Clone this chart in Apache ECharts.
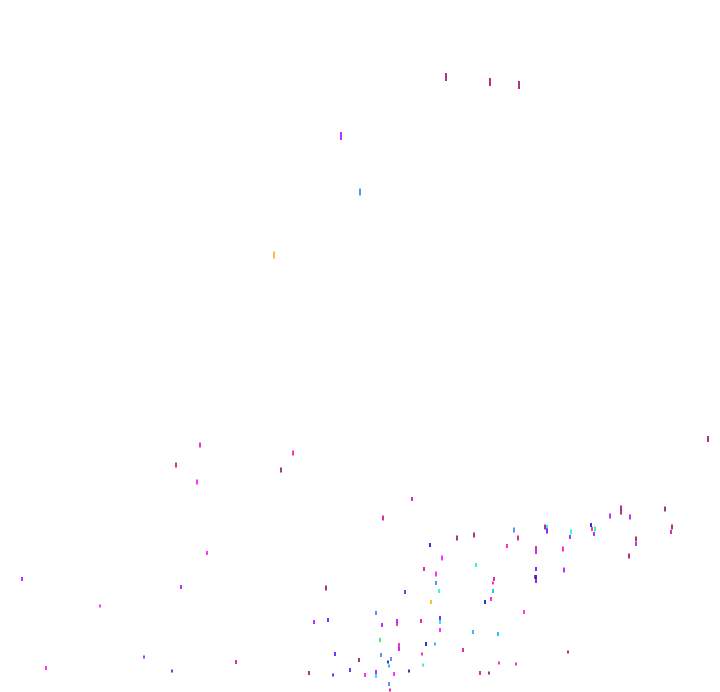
<!DOCTYPE html>
<html><head><meta charset="utf-8">
<script src="https://cdn.jsdelivr.net/npm/echarts@6/dist/echarts.min.js"></script>
<style>html,body{margin:0;padding:0;background:#fff}#c{width:720px;height:692px}</style>
</head><body><div id="c"></div>
<script>
// point x values
const xVals = [446,490,519,341,360,274,708,
200,176,197,207,
22,181,100,144,236,46,172,
293,281,412,383,457,474,430,442,
476,424,436,436,439,326,405,431,376,328,314,440,440,382,397,397,421,440,473,380,399,399,426,435,463,335,381,391,422,359,388,389,423,350,376,376,409,394,309,333,365,389,390,
621,665,610,630,672,671,514,545,547,547,571,570,591,592,595,594,518,636,636,507,536,536,563,629,
536,536,535,536,564,494,493,493,491,485,524,498,568,499,516,480,489];
// point y values
const yVals = [77,82,85,136,192,255,439,
445,465,482,553,
579,587,606,657,662,668,671,
453,470,499,518,538,535,545,558,
565,569,574,583,591,588,592,602,613,620,622,618,622,625,624,621,621,630,632,640,645,649,644,644,650,654,655,659,654,660,662,666,665,670,672,676,671,674,673,675,675,684,690,
510,509,516,517,527,532,530,527,527,531,532,537,525,529,529,534,538,539,544,546,548,552,549,556,
569,577,577,581,570,579,583,591,599,602,612,634,652,663,664,673,673];
// mark magnitude
const sizes = [8,8,8,8,7,7,6,
5,5,5,4,
4,4,3,3,4,4,3,
5,5,4,5,5,5,4,5,
4,4,5,4,4,5,4,4,4,4,4,4,4,4,4,4,4,4,4,4,4,4,4,3,4,4,4,4,3,4,3,3,3,4,4,4,3,4,4,3,4,4,3,
9,5,5,5,5,4,5,5,4,5,5,4,4,4,5,4,5,5,4,4,4,4,5,5,
4,4,4,4,5,4,3,4,4,4,4,4,3,3,3,4,3];
// colour group of each point
const groups = ['d','d','d','p','b','o','d',
'm','r','f','f',
'p','p','f','p','r','f','v',
'm','d','r','r','d','d','n','f',
'g','r','f','b','t','d','v','o','b','v','p','v','c','p','m','p','r','f','s','h','m','p','n','s','r','v','b','b','m','d','n','s','g','v','p','c','n','f','d','v','f','b','r',
'd','d','p','p','d','r','b','d','c','v','t','p','n','m','g','p','r','d','p','m','r','p','m','d',
'v','n','d','v','p','r','m','s','m','n','f','s','d','m','m','r','d'];
const palette = {d:'#990066',r:'#cc0088',m:'#ff00aa',f:'#ff00ff',p:'#aa00ff',v:'#5500ff',n:'#0000cc',b:'#3377ff',s:'#00aaff',c:'#00ddff',t:'#00ffcc',g:'#00ff88',h:'#00ff44',o:'#ffaa00'};

const data = xVals.map((x,i)=>({value:[x,yVals[i],sizes[i]],itemStyle:{color:palette[groups[i]]}}));
const chart = echarts.init(document.getElementById('c'),null,{renderer:'canvas'});
chart.setOption({
  animation:false,
  backgroundColor:'#ffffff',
  grid:{left:0,right:0,top:0,bottom:0},
  xAxis:{type:'value',min:0,max:720,show:false},
  yAxis:{type:'value',min:0,max:692,inverse:true,show:false},
  series:[{type:'scatter',symbol:'rect',data:data,
    symbolSize:function(v){return [2,v[2]];}}]
});
</script></body></html>
